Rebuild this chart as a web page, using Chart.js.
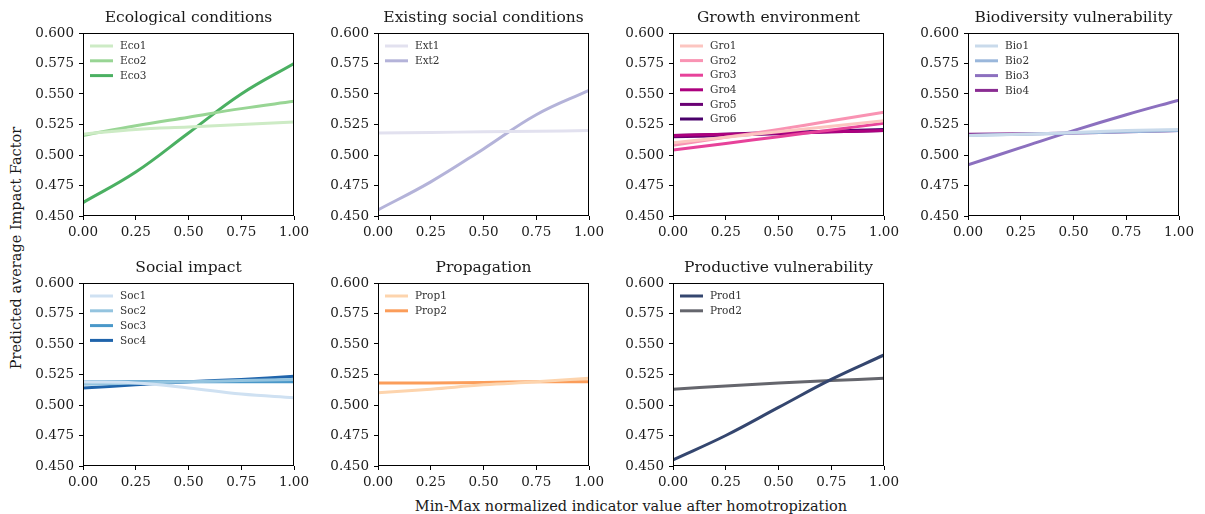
<!DOCTYPE html>
<html>
<head>
<meta charset="utf-8">
<script src="https://cdn.jsdelivr.net/npm/chart.js@4.4.0/dist/chart.umd.min.js"></script>
<style>
  html, body { margin: 0; padding: 0; background: #fff; }
  body { width: 1205px; height: 514px; position: relative; overflow: hidden; font-family: "DejaVu Serif", serif; color: #1a1a1a; }
  canvas.panel { position: absolute; }
  #ylab { position: absolute; left: 16px; top: 248px; transform: translate(-50%, -50%) rotate(-90deg); white-space: nowrap; font-size: 14.5px; }
  #xlab { position: absolute; left: 631px; top: 506px; transform: translate(-50%, -50%); white-space: nowrap; font-size: 14.5px; }
</style>
</head>
<body>
<div id="ylab">Predicted average Impact Factor</div>
<div id="xlab">Min-Max normalized indicator value after homotropization</div>
<script>
// Indicator value grid (min-max normalized)
const xValues = [0, 0.25, 0.5, 0.75, 1.0];

// Axis ticks
const xTicks = [0, 0.25, 0.5, 0.75, 1.0];
const yTicks = [0.45, 0.475, 0.5, 0.525, 0.55, 0.575, 0.6];

// Panel titles
const titles = ["Ecological conditions", "Existing social conditions", "Growth environment",
  "Biodiversity vulnerability", "Social impact", "Propagation", "Productive vulnerability"];

// Predicted average impact factor per indicator
const ecoLabels = ["Eco1", "Eco2", "Eco3"];
const eco1 = [0.517, 0.521, 0.523, 0.525, 0.527];
const eco2 = [0.516, 0.524, 0.531, 0.538, 0.544];
const eco3 = [0.461, 0.486, 0.518, 0.550, 0.575];

const extLabels = ["Ext1", "Ext2"];
const ext1 = [0.518, 0.5185, 0.519, 0.5195, 0.520];
const ext2 = [0.455, 0.478, 0.505, 0.533, 0.553];

const groLabels = ["Gro1", "Gro2", "Gro3", "Gro4", "Gro5", "Gro6"];
const gro1 = [0.510, 0.5145, 0.519, 0.5235, 0.528];
const gro2 = [0.508, 0.5145, 0.521, 0.528, 0.535];
const gro3 = [0.504, 0.5095, 0.515, 0.5205, 0.526];
const gro4 = [0.516, 0.517, 0.518, 0.519, 0.520];
const gro5 = [0.515, 0.516, 0.5175, 0.519, 0.520];
const gro6 = [0.516, 0.517, 0.5185, 0.5195, 0.521];

const bioLabels = ["Bio1", "Bio2", "Bio3", "Bio4"];
const bio1 = [0.516, 0.517, 0.5185, 0.520, 0.521];
const bio2 = [0.516, 0.517, 0.518, 0.519, 0.520];
const bio3 = [0.492, 0.506, 0.520, 0.533, 0.545];
const bio4 = [0.517, 0.5175, 0.518, 0.519, 0.520];

const socLabels = ["Soc1", "Soc2", "Soc3", "Soc4"];
const soc1 = [0.519, 0.518, 0.514, 0.509, 0.506];
const soc2 = [0.517, 0.518, 0.519, 0.520, 0.521];
const soc3 = [0.519, 0.519, 0.519, 0.519, 0.519];
const soc4 = [0.514, 0.5165, 0.519, 0.521, 0.5235];

const propLabels = ["Prop1", "Prop2"];
const prop1 = [0.510, 0.513, 0.5165, 0.519, 0.522];
const prop2 = [0.518, 0.518, 0.5185, 0.519, 0.519];

const prodLabels = ["Prod1", "Prod2"];
const prod1 = [0.455, 0.475, 0.498, 0.521, 0.541];
const prod2 = [0.513, 0.5155, 0.518, 0.520, 0.522];

// Line colours per group
const ecoColors = ["#cdebc5", "#98d594", "#4bb062"];
const extColors = ["#e2e1ef", "#b4b3d9"];
const groColors = ["#fcc5c0", "#f993b3", "#e7429a", "#ac017e", "#6a0174", "#49006a"];
const bioColors = ["#c9daeb", "#9ab7db", "#8c70bf", "#8a2c92"];
const socColors = ["#cfe1f2", "#94c4df", "#4a98c9", "#1f64ab"];
const propColors = ["#fdd4ad", "#fb9d5a"];
const prodColors = ["#34466f", "#65666d"];

const groups = [
  { labels: ecoLabels, series: [eco1, eco2, eco3], colors: ecoColors },
  { labels: extLabels, series: [ext1, ext2], colors: extColors },
  { labels: groLabels, series: [gro1, gro2, gro3, gro4, gro5, gro6], colors: groColors },
  { labels: bioLabels, series: [bio1, bio2, bio3, bio4], colors: bioColors },
  { labels: socLabels, series: [soc1, soc2, soc3, soc4], colors: socColors },
  { labels: propLabels, series: [prop1, prop2], colors: propColors },
  { labels: prodLabels, series: [prod1, prod2], colors: prodColors }
];

// Grid geometry
const PLOT_LEFTS = [83, 378, 673, 968];
const PLOT_TOPS = [33, 283];
const PLOT_W = 211, PLOT_H = 183;
const AX_W = 60, AX_H = 30, PAD_TOP = 34, PAD_R = 24;
const SERIF = '"DejaVu Serif", serif';
const INK = '#1a1a1a';

// Title, frame and in-axes legend
const panelDecor = {
  id: 'panelDecor',
  afterDraw(chart) {
    const ctx = chart.ctx, a = chart.chartArea;
    ctx.save();
    ctx.strokeStyle = '#000';
    ctx.lineWidth = 1;
    const L = Math.round(a.left) + 0.5, T = Math.round(a.top) + 0.5;
    const R = Math.round(a.right) - 0.5, B = Math.round(a.bottom) - 0.5;
    ctx.strokeRect(L, T, R - L, B - T);

    ctx.fillStyle = INK;
    ctx.font = '15.5px ' + SERIF;
    ctx.textAlign = 'center';
    ctx.textBaseline = 'alphabetic';
    ctx.fillText(chart.options.plugins.panelDecor.title, (a.left + a.right) / 2, a.top - 11);

    const n = chart.data.datasets.length;
    const step = n > 5 ? 14.6 : 14.8;
    ctx.font = '10.5px ' + SERIF;
    ctx.textAlign = 'left';
    ctx.textBaseline = 'middle';
    chart.data.datasets.forEach((ds, i) => {
      const y = a.top + 13 + i * step;
      ctx.strokeStyle = ds.borderColor;
      ctx.lineWidth = ds.borderWidth;
      ctx.beginPath();
      ctx.moveTo(a.left + 7, y);
      ctx.lineTo(a.left + 30, y);
      ctx.stroke();
      ctx.fillStyle = '#333';
      ctx.fillText(ds.label, a.left + 37, y + 0.5);
    });
    ctx.restore();
  }
};

groups.forEach((g, idx) => {
  const row = idx < 4 ? 0 : 1;
  const col = idx % 4;
  const canvas = document.createElement('canvas');
  canvas.className = 'panel';
  const cw = AX_W + PLOT_W + PAD_R, ch = PAD_TOP + PLOT_H + AX_H;
  canvas.width = cw; canvas.height = ch;
  canvas.style.width = cw + 'px'; canvas.style.height = ch + 'px';
  canvas.style.left = (PLOT_LEFTS[col] - AX_W) + 'px';
  canvas.style.top = (PLOT_TOPS[row] - PAD_TOP) + 'px';
  document.body.appendChild(canvas);

  const datasets = g.series.map((vals, i) => ({
    label: g.labels[i],
    data: xValues.map((x, k) => ({ x: x, y: vals[k] })),
    borderColor: g.colors[i],
    backgroundColor: g.colors[i],
    borderWidth: 3,
    pointRadius: 0,
    tension: 0.4,
    fill: false,
    clip: 0
  }));

  new Chart(canvas, {
    type: 'line',
    data: { datasets },
    options: {
      responsive: false,
      animation: false,
      devicePixelRatio: 1,
      layout: { padding: { top: PAD_TOP, right: PAD_R, left: 0, bottom: 0 } },
      plugins: {
        legend: { display: false },
        tooltip: { enabled: false },
        title: { display: false },
        panelDecor: { title: titles[idx] }
      },
      scales: {
        x: {
          type: 'linear', min: 0, max: 1,
          afterFit(s) { s.height = AX_H; },
          afterBuildTicks(s) { s.ticks = xTicks.map(v => ({ value: v })); },
          grid: { display: true, drawOnChartArea: false, drawTicks: true, tickLength: 4, tickColor: '#000', tickWidth: 1 },
          border: { display: false },
          ticks: { color: INK, font: { family: SERIF, size: 13.5 }, padding: 4, maxRotation: 0, autoSkip: false,
                   callback: v => Number(v).toFixed(2) }
        },
        y: {
          type: 'linear', min: 0.45, max: 0.6,
          afterFit(s) { s.width = AX_W; },
          afterBuildTicks(s) { s.ticks = yTicks.map(v => ({ value: v })); },
          grid: { display: true, drawOnChartArea: false, drawTicks: true, tickLength: 4, tickColor: '#000', tickWidth: 1 },
          border: { display: false },
          ticks: { color: INK, font: { family: SERIF, size: 13.5 }, padding: 5, autoSkip: false,
                   callback: v => Number(v).toFixed(3) }
        }
      }
    },
    plugins: [panelDecor]
  });
});
</script>
</body>
</html>
